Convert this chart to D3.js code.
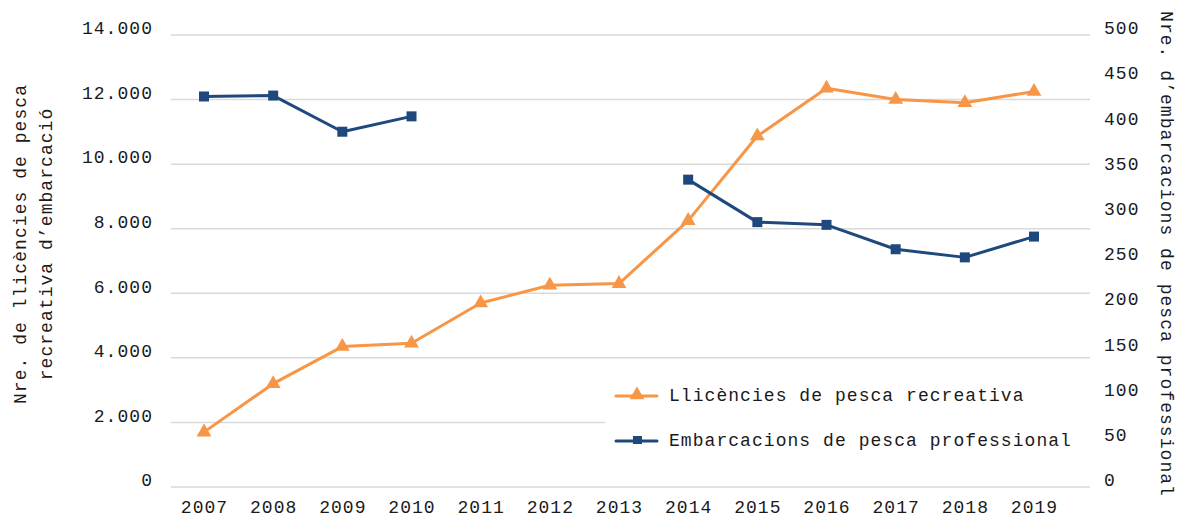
<!DOCTYPE html>
<html><head><meta charset="utf-8">
<script src="https://cdn.jsdelivr.net/npm/d3@7"></script>
<style>
body{margin:0;background:#fff;}
text{font-family:"Liberation Mono",monospace;font-size:18px;fill:#1a1a1a;letter-spacing:1.05px;}
</style></head>
<body><svg id="c" width="1178" height="517"></svg>
<script>
const years = ["2007","2008","2009","2010","2011","2012","2013","2014","2015","2016","2017","2018","2019"];
const licences = [1700,3200,4350,4450,5700,6250,6300,8250,10870,12350,12000,11900,12250];
const vessels = [432,433,393,410,null,null,null,340,293,290,263,254,277];
const leftTicks = [0,2000,4000,6000,8000,10000,12000,14000];
const rightTicks = [0,50,100,150,200,250,300,350,400,450,500];
const seriesNames = ["Llicències de pesca recreativa","Embarcacions de pesca professional"];
const leftTitle = ["Nre. de llicències de pesca","recreativa d’embarcació"];
const rightTitle = "Nre. d’embarcacions de pesca professional";
const orange = "#F79646", blue = "#1F497D";

const svg = d3.select("#c");
const x = d3.scalePoint().domain(years).range([204,1034]);
const yL = d3.scaleLinear().domain([0,14000]).range([487,35]);
const yR = d3.scaleLinear().domain([0,500]).range([487,35]);
const fmt = v => d3.format(",")(v).replace(/,/g,".");

// gridlines
svg.append("g").selectAll("line").data(leftTicks).join("line")
  .attr("x1",171).attr("x2",1090).attr("y1",d=>yL(d)).attr("y2",d=>yL(d))
  .attr("stroke","#d9d9d9").attr("stroke-width",1.5);

// left axis
const gl = svg.append("g").attr("transform","translate(153,-7)")
  .call(d3.axisLeft(yL).tickValues(leftTicks).tickFormat(fmt).tickSize(0).tickPadding(0));
gl.select(".domain").remove();
gl.selectAll("text").attr("font-size",null).attr("font-family",null);
// right axis
const gr = svg.append("g").attr("transform","translate(1104,-7)")
  .call(d3.axisRight(yR).tickValues(rightTicks).tickSize(0).tickPadding(0));
gr.select(".domain").remove();
gr.selectAll("text").attr("font-size",null).attr("font-family",null);
// bottom axis
const gb = svg.append("g").attr("transform","translate(0,487)")
  .call(d3.axisBottom(x).tickSize(0).tickPadding(13));
gb.select(".domain").remove();
gb.selectAll("text").attr("font-size",null).attr("font-family",null);
svg.selectAll(".tick text").style("fill","#1a1a1a");

// titles
const lt = svg.append("text").attr("transform","translate(0,244) rotate(-90)").attr("text-anchor","middle");
lt.selectAll("tspan").data(leftTitle).join("tspan").attr("x",0).attr("dy",26).text(d=>d);
svg.append("text").attr("transform","translate(1161,254) rotate(90)").attr("text-anchor","middle").text(rightTitle);

// lines
const lineL = d3.line().x((d,i)=>x(years[i])).y(d=>yL(d)).defined(d=>d!=null);
const lineR = d3.line().x((d,i)=>x(years[i])).y(d=>yR(d)).defined(d=>d!=null);
svg.append("path").datum(licences).attr("d",lineL).attr("fill","none").attr("stroke",orange).attr("stroke-width",3).attr("stroke-linejoin","round");
svg.append("path").datum(vessels).attr("d",lineR).attr("fill","none").attr("stroke",blue).attr("stroke-width",3).attr("stroke-linejoin","round");
const tri = d3.symbol().type(d3.symbolTriangle).size(95);
svg.append("g").selectAll("path").data(licences).join("path")
  .attr("transform",(d,i)=>`translate(${x(years[i])},${yL(d)})`).attr("d",tri).attr("fill",orange);
svg.append("g").selectAll("rect").data(vessels.map((v,i)=>[years[i],v]).filter(d=>d[1]!=null)).join("rect")
  .attr("x",d=>x(d[0])-5).attr("y",d=>yR(d[1])-5).attr("width",10).attr("height",10).attr("fill",blue);

// legend
const lg = svg.append("g");
lg.append("rect").attr("x",605).attr("y",368).attr("width",486).attr("height",90).attr("fill","#fff");
const items = [{n:seriesNames[0],c:orange,t:"tri",y:396},{n:seriesNames[1],c:blue,t:"sq",y:441}];
items.forEach(it=>{
  lg.append("line").attr("x1",616).attr("x2",657).attr("y1",it.y).attr("y2",it.y).attr("stroke",it.c).attr("stroke-width",3).attr("stroke-linecap","round");
  if(it.t==="tri") lg.append("path").attr("transform",`translate(637,${it.y-1})`).attr("d",tri).attr("fill",it.c);
  else lg.append("rect").attr("x",633).attr("y",it.y-5).attr("width",9).attr("height",8).attr("fill",it.c);
  lg.append("text").attr("x",669).attr("y",it.y-1).attr("dy","0.32em").text(it.n);
});
</script></body></html>
